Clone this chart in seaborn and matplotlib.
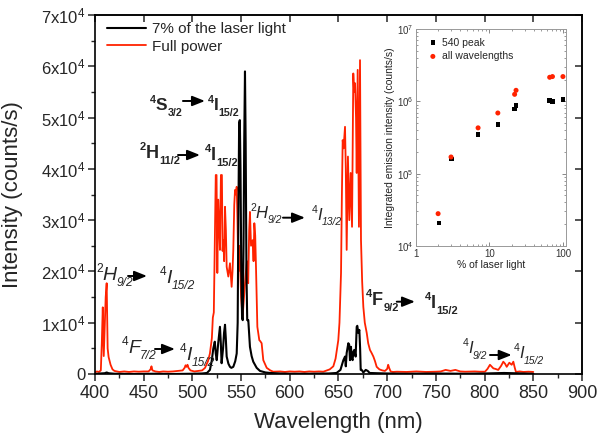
import matplotlib
matplotlib.use("Agg")
import matplotlib.pyplot as plt
import numpy as np
import pandas as pd
import seaborn as sns
from matplotlib.ticker import MultipleLocator, NullLocator, NullFormatter, LogLocator

# ---------------- data ----------------
wl_full = [400, 402, 404, 406, 407, 408, 409, 410, 411, 412, 413, 414, 416, 418, 420,
           425, 430, 435, 440, 445, 450, 455, 457, 458, 459, 462, 466, 470, 475, 480,
           485, 490, 492, 493, 494, 495, 496, 498, 502, 506, 510, 513, 516, 518, 520,
           521, 522, 523, 524.0, 524.8, 525.6, 526.5, 527.3, 528.3, 529.3, 530.3, 531.0,
           531.8, 532.6, 533.5, 534.4, 535.2, 536.9, 538.6, 540.3, 541.2, 542.0, 543.0,
           543.8, 544.6, 545.5, 546.3, 547.2, 548.5, 550, 551.5, 553, 555, 556, 557.3,
           558.3, 559.1, 560.2, 561.9, 562.8, 563.6, 564.5, 565.3, 566.7, 568.7, 569.7,
           571.1, 572.8, 576.3, 580, 583, 590, 595, 600, 605, 610, 615, 620, 625, 630,
           634.4, 638, 641, 644.7, 647, 649.8, 651, 652.6, 653.5, 654.3, 655.2, 656.7,
           657.5, 658.4, 659.7, 661.1, 662.5, 663.9, 664.6, 665.2, 666.0, 667.0, 668.0,
           668.7, 669.7, 670.3, 671.0, 672.1, 673.1, 674.3, 675.5, 677, 679, 680.5, 682.3,
           684, 685.8, 687.5, 689.2, 692, 695, 697.7, 700, 701, 702, 703.5, 706, 710, 720,
           730, 740, 750, 755, 760, 765, 770, 775, 780, 790, 795, 800.4, 803, 805.5, 807,
           809, 811, 814, 817, 819.2, 821, 822.7, 825.4, 827.8, 829.5, 831, 832.2, 836,
           840, 845, 850]
int_full = [300, 500, 400, 700, 6000, 13000, 3500, 9000, 15000, 17700, 5000, 3300, 1800, 900, 600,
            400, 500, 400, 500, 450, 500, 500, 900, 1500, 700, 500, 400, 500, 450, 500,
            600, 700, 1200, 1700, 1400, 1800, 1200, 700, 500, 600, 700, 1200, 2500, 4000, 7000,
            11000, 12000, 26000, 38800, 38800, 19700, 34000, 30000, 24200, 38800, 38800, 24000,
            26100, 22000, 32600, 28000, 20900, 19000, 21600, 17000, 20000, 24200, 33000,
            35900, 35000, 36500, 30000, 20000, 25000, 15000, 11000, 15000, 20000, 22000, 17700,
            28000, 31600, 25000, 26100, 22000, 29400, 27000, 20900, 9200, 6600, 6400,
            6000, 2700, 1200, 700, 450, 500, 400, 500, 450, 500, 400, 500, 450, 500,
            450, 700, 900, 1500, 3000, 6600, 10000, 19700, 35000, 45600, 44000, 48200,
            40000, 24200, 42400, 30000, 39200, 28700, 45000, 58600, 55000, 56700, 50000,
            39200, 59300, 45000, 28700, 61200, 26100, 18000, 13100, 10000, 8000, 6000, 4700,
            4100, 3400, 2500, 1400, 900, 700, 600, 1000, 1800, 1200, 500, 400, 450, 400,
            500, 400, 450, 500, 800, 600, 800, 500, 450, 500, 450, 450, 1000, 1800, 1500,
            1100, 1000, 800, 1600, 2400, 2000, 1400, 2200, 1800, 2400, 1200, 400, 500,
            400, 450, 400]

wl_low = [400, 405, 410, 412, 414, 420, 440, 460, 480, 500, 510, 515, 518, 519.8, 521.5,
          523, 524, 525, 526.5, 528.3, 529.2, 530, 531.5, 532.5, 533.5, 534.3, 535.2, 537,
          538.6, 540, 542, 544, 545.5, 546.5, 547.2, 548.0, 548.7, 549.4, 550.2, 551.0,
          551.7, 552.5, 553.2, 554.0, 554.7, 555.5, 556.3, 557.4, 559.1, 560.8, 562.5, 566,
          569.4, 575, 580, 590, 600, 620, 640, 648, 652, 655, 656.7, 657.5, 658.4, 660.1,
          661.0, 661.8, 662.8, 663.6, 664.5, 665.2, 666.2, 667.6, 668.7, 669.3, 670.4,
          671.4, 672.2, 672.8, 673.8, 675.5, 678, 680, 682, 690, 700, 720, 750, 780, 800,
          810, 820, 830, 840, 850]
int_low = [0, 100, 150, 300, 150, 50, 0, 50, 0, 50, 100, 200, 800, 2500, 5000,
           6300, 4000, 2700, 6000, 9200, 6000, 2100, 5000, 8000, 9600, 7000, 3400, 2000,
           1400, 1200, 1400, 2500, 4000, 10000, 30000, 49000, 49500, 40000, 20000, 11000,
           10500, 25000, 45000, 59000, 45000, 20000, 10500, 10500, 5300, 3500, 2400, 1200,
           600, 300, 200, 100, 50, 50, 100, 200, 800, 2700, 3400, 1500, 4100, 6000,
           5700, 2700, 5300, 3000, 2700, 4300, 4700, 3400, 9200, 9400, 8000,
           8600, 5000, 800, 800, 300, 800, 600, 200, 150, 100, 50, 100, 50, 100,
           150, 200, 150, 100, 50]

pct_540 = [2.05, 3.07, 7.0, 13.0, 21.9, 23.1, 66, 72, 100]
int_540 = [2.07e4, 1.6e5, 3.5e5, 4.75e5, 7.8e5, 8.8e5, 1.02e6, 1.0e6, 1.05e6]
pct_all = [2.0, 3.0, 7.0, 13.0, 22.0, 23.0, 66, 72, 100]
int_all = [2.8e4, 1.7e5, 4.3e5, 6.9e5, 1.25e6, 1.42e6, 2.15e6, 2.2e6, 2.2e6]

x_ticks = [400, 450, 500, 550, 600, 650, 700, 750, 800, 850, 900]
y_ticks = [0, 10000, 20000, 30000, 40000, 50000, 60000, 70000]
y_labels = ["0"] + [r"$%d\mathrm{x}10^{4}$" % k for k in range(1, 8)]

RED = "#ff2200"

# ---------------- style ----------------
sns.set_style("ticks")
plt.rcParams["font.family"] = ["Liberation Sans", "DejaVu Sans"]
plt.rcParams["mathtext.fontset"] = "custom"
plt.rcParams["mathtext.rm"] = "Liberation Sans"
plt.rcParams["mathtext.it"] = "Liberation Sans:italic"
plt.rcParams["mathtext.bf"] = "Liberation Sans:bold"
plt.rcParams["mathtext.sf"] = "Liberation Sans"

fig = plt.figure(figsize=(6, 4.4), dpi=100)
ax = fig.add_axes([0.1583, 0.15, 0.8117, 0.8159])

df_full = pd.DataFrame({"wl": wl_full, "I": int_full})
df_low = pd.DataFrame({"wl": wl_low, "I": int_low})
sns.lineplot(data=df_full, x="wl", y="I", ax=ax, color=RED, lw=1.3,
             estimator=None, sort=False, label="Full power", zorder=2)
sns.lineplot(data=df_low, x="wl", y="I", ax=ax, color="black", lw=1.5,
             estimator=None, sort=False, label="7% of the laser light", zorder=3)

ax.set_xlim(400, 900)
ax.set_ylim(0, 70000)
ax.set_xticks(x_ticks)
ax.xaxis.set_minor_locator(MultipleLocator(25))
ax.set_yticks(y_ticks, y_labels)
ax.yaxis.set_minor_locator(MultipleLocator(5000))
ax.tick_params(axis="x", which="major", direction="out", length=5, width=1.1, labelsize=13, pad=3)
ax.tick_params(axis="y", which="major", direction="out", length=5, width=1.1, labelsize=12, pad=2)
ax.tick_params(which="minor", direction="out", length=3, width=1.0)
for s in ax.spines.values():
    s.set_linewidth(1.2)
    s.set_color("black")

secx = ax.secondary_xaxis("top")
secx.set_xticks(x_ticks)
secx.xaxis.set_major_formatter(NullFormatter())
secx.xaxis.set_minor_locator(NullLocator())
secx.tick_params(direction="in", length=5, width=1.1)
secx.spines["top"].set_linewidth(1.2)
secy = ax.secondary_yaxis("right")
secy.set_yticks(y_ticks)
secy.yaxis.set_major_formatter(NullFormatter())
secy.yaxis.set_minor_locator(NullLocator())
secy.tick_params(direction="in", length=5, width=1.1)
secy.spines["right"].set_linewidth(1.2)

ax.set_xlabel("Wavelength (nm)", fontsize=16)
ax.set_ylabel("Intensity (counts/s)", fontsize=16)
ax.xaxis.set_label_coords(0.5, -0.105)
ax.yaxis.set_label_coords(-0.148, 0.5)

h, l = ax.get_legend_handles_labels()
ax.legend([h[1], h[0]], [l[1], l[0]], loc="upper left", bbox_to_anchor=(0.01, 1.0),
          borderaxespad=0, borderpad=0.45, fontsize=11, frameon=False,
          handlelength=2.6, handletextpad=0.35, labelspacing=0.25)

# ---------------- transition labels ----------------
renderer = fig.canvas.get_renderer()


def term(x, y, sup, main, sub, size, bold, italic):
    """Spectroscopic term symbol: small superscript, main letter, small subscript."""
    weight = "bold" if bold else "normal"
    style = "italic" if italic else "normal"
    small = size * 0.62
    pieces = [(sup, small, weight, "normal", size * 0.42),
              (main, size, weight, style, 0.0),
              (sub, small, weight, style, -size * 0.32)]
    off = 0.0
    for txt, fs, fw, st, dy in pieces:
        t = ax.annotate(txt, xy=(x, y), xycoords="data", xytext=(off, dy),
                        textcoords="offset points", fontsize=fs, fontweight=fw,
                        fontstyle=st, ha="left", va="baseline", zorder=5)
        off += t.get_window_extent(renderer=renderer).width * 72.0 / fig.dpi


def arrow(xa1, xa2, ya):
    ax.annotate("", xy=(xa2, ya), xytext=(xa1, ya),
                arrowprops=dict(arrowstyle="-|>,head_length=0.75,head_width=0.3",
                                color="black", lw=1.4, shrinkA=0, shrinkB=0,
                                mutation_scale=10), zorder=5)


# 4S3/2 -> 4I15/2 (bold)
term(456.5, 51480, "4", "S", "3/2", 12.5, True, False)
arrow(490.3, 512.9, 53235)
term(516.0, 51480, "4", "I", "15/2", 12.5, True, False)
# 2H11/2 -> 4I15/2 (bold)
term(446.2, 42120, "2", "H", "11/2", 13, True, False)
arrow(485.2, 507.8, 42700)
term(512.9, 41730, "4", "I", "15/2", 13, True, False)
# 2H9/2 -> 4I13/2 (italic)
term(559.1, 30420, "2", "H", "9/2", 12, False, True)
arrow(593.0, 615.6, 30480)
term(622.5, 30030, "4", "I", "13/2", 12, False, True)
# 2H9/2 -> 4I15/2 (italic)
term(401.0, 18330, "2", "H", "9/2", 14, False, True)
arrow(433.9, 453.4, 19110)
term(466.7, 17745, "4", "I", "15/2", 14, False, True)
# 4F7/2 -> 4I15/2 (italic)
term(427.4, 4095, "4", "F", "7/2", 14, False, True)
arrow(461.6, 482.1, 4875)
term(487.3, 2730, "4", "I", "15/2", 14, False, True)
# 4F9/2 -> 4I15/2 (bold)
term(678.2, 13455, "4", "F", "9/2", 13, True, False)
arrow(709.8, 728.5, 14100)
term(738.8, 12870, "4", "I", "15/2", 13, True, False)
# 4I9/2 -> 4I15/2 (italic)
term(777.1, 4036, "4", "I", "9/2", 12, False, True)
arrow(805.5, 827.8, 3705)
term(829.5, 3060, "4", "I", "15/2", 12, False, True)

# ---------------- inset ----------------
axin = fig.add_axes([0.6933, 0.4409, 0.25, 0.4932])
axin.set_xscale("log")
axin.set_yscale("log")
sns.scatterplot(x=pct_540, y=int_540, ax=axin, marker="s", color="black", s=11,
                edgecolor="none", label="540 peak", zorder=3)
sns.scatterplot(x=pct_all, y=int_all, ax=axin, marker="o", color=RED, s=13,
                edgecolor="none", label="all wavelengths", zorder=3)
axin.set_xlim(1, 110)
axin.set_ylim(1e4, 1e7)
axin.set_xticks([1, 10, 100], ["1", "10", "100"])
axin.yaxis.set_major_locator(LogLocator(base=10, numticks=10))
axin.yaxis.set_minor_locator(LogLocator(base=10, subs=np.arange(2, 10), numticks=20))
axin.tick_params(which="both", direction="in", top=True, right=True, color="#888888",
                 labelcolor="#333333", labelsize=7, pad=2)
axin.tick_params(which="major", length=3, width=0.7)
axin.tick_params(which="minor", length=1.5, width=0.6)
for s in axin.spines.values():
    s.set_linewidth(0.7)
    s.set_color("#999999")
axin.set_xlabel("% of laser light", fontsize=7.5, color="#222222", labelpad=1)
axin.set_ylabel("Integrated emission intensity (counts/s)", fontsize=7.5, color="#222222", labelpad=1)
axin.legend(loc="upper left", bbox_to_anchor=(0.05, 0.98), frameon=False, fontsize=7.5,
            handletextpad=0.4, labelspacing=0.35, borderaxespad=0, handlelength=1.0)

fig.savefig("out.png", dpi=100)
